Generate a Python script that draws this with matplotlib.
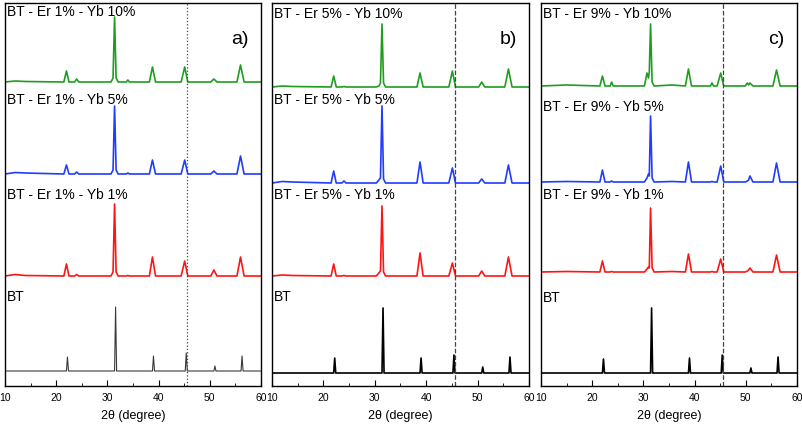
import matplotlib
matplotlib.use('Agg')
import matplotlib.pyplot as plt
from matplotlib.ticker import MultipleLocator

plt.rcParams['font.family'] = ['Liberation Sans', 'DejaVu Sans']

# colour order in every panel: BT (black), Yb 1% (red), Yb 5% (blue), Yb 10% (green)
colors = ['#000000', '#ff1414', '#1f3cff', '#1e9e1e']

# pure BT pattern (same grid for all panels)
x_bt = [10, 22.0, 22.2, 22.4, 31.4, 31.6, 31.8, 38.8, 39.0, 39.2, 45.2, 45.4, 45.6,
        50.8, 51.0, 51.2, 56.1, 56.3, 56.5, 60]
bt_a = [0, 0, 14, 0, 0, 64, 0, 0, 15, 0, 0, 18, 0, 0, 5, 0, 0, 15, 0, 0]
bt_b = [0, 0, 15, 0, 0, 65, 0, 0, 15, 0, 0, 18, 0, 0, 6, 0, 0, 16, 0, 0]
bt_c = [0, 0, 14, 0, 0, 65, 0, 0, 15, 0, 0, 18, 0, 0, 5, 0, 0, 16, 0, 0]

# a) Er 1%
x_a = [10, 12, 14, 21.5, 22.0, 22.5, 23.6, 24.0, 24.4, 30.7, 31.1, 31.4, 31.7, 32.1,
       33.7, 34.0, 34.3, 38.2, 38.8, 39.4, 44.4, 45.1, 45.7, 50.2, 50.8, 51.4,
       55.3, 56.0, 56.7, 60]
a_yb1 = [0, 1.5, 0.5, 0, 12, 0, 0, 1.5, 0, 0, 4, 72, 4, 0, 0, 0.5, 0, 0, 19, 0,
         0, 15, 0, 0, 6, 0, 0, 19, 0, 0]
a_yb5 = [0, 1.5, 1, 0, 9, 0, 0, 2, 0, 0, 4, 68, 4, 0, 0, 1, 0, 0, 14, 0,
         0, 14, 0, 0, 3, 0, 0, 18, 0, 0]
a_yb10 = [0, 1, 0.5, 0, 11, 0, 0, 3, 0, 0, 4, 65, 4, 0, 0, 2, 0, 0, 15, 0,
          0, 15, 0, 0, 3, 0, 0, 17, 0, 0]

# b) Er 5%
x_b = [10, 12, 14, 21.5, 22.0, 22.5, 23.6, 24.0, 24.4, 30.3, 30.8, 31.1, 31.4, 31.7, 32.1,
       38.2, 38.8, 39.4, 44.4, 45.1, 45.7, 50.2, 50.8, 51.4, 55.3, 56.0, 56.7, 60]
b_yb1 = [0, 1, 0.5, 0, 12, 0, 0, 0.5, 0, 0, 3, 5, 70, 4, 0, 0, 23, 0,
         0, 13, 0, 0, 5, 0, 0, 19, 0, 0]
b_yb5 = [0, 1.5, 1, 0, 12, 0, 0, 2, 0, 0, 3, 5, 77, 4, 0, 0, 21, 0,
         0, 15, 0, 0, 4, 0, 0, 18, 0, 0]
b_yb10 = [0, 1, 0.5, 0, 11, 0, 0, 0.5, 0, 0, 1, 4, 63, 4, 0, 0, 14, 0,
          0, 16, 0, 0, 5, 0, 0, 18, 0, 0]

# c) Er 9%
x_c = [10, 15, 21.5, 22.0, 22.5, 23.5, 23.8, 24.1, 30.2, 30.7, 31.0, 31.15, 31.4, 31.7, 32.1,
       35.6, 38.2, 38.8, 39.4, 43.1, 43.4, 43.7, 44.4, 45.1, 45.7,
       49.9, 50.3, 50.55, 50.8, 51.4, 55.3, 56.0, 56.7, 60]
c_yb1 = [0, 0.5, 0, 11, 0, 0, 0.5, 0, 0, 3, 5, 4, 64, 4, 0, 0.5, 0, 18, 0,
         0, 0.5, 0, 0, 13, 0, 0, 1, 2, 4, 0, 0, 17, 0, 0]
c_yb5 = [0, 0.5, 0, 12, 0, 0, 1, 0, 0, 4, 8, 6, 66, 4, 0, 0.5, 0, 20, 0,
         0, 0.5, 0, 0, 16, 0, 0, 1, 2, 6, 0, 0, 19, 0, 0]
c_yb10 = [0, 1, 0, 10, 0, 0, 4, 0, 0, 13, 8, 14, 62, 4, 0, 1, 0, 17, 0,
          0, 3, 0, 0, 13, 0, 0, 3, 1, 3, 0, 0, 16, 0, 0]

# vertical offsets (BT, Yb1, Yb5, Yb10)
offsets = [[15, 110, 212, 304], [13, 110, 203, 299], [13, 114, 204, 300]]
label_y = [[89, 191, 286, 374], [89, 191, 286, 372], [88, 191, 279, 372]]
er = ['1%', '5%', '9%']
yb = ['1%', '5%', '10%']
letters = ['a)', 'b)', 'c)']
x_ref = 45.6

panels = [
    (bt_a, x_a, [a_yb1, a_yb5, a_yb10]),
    (bt_b, x_b, [b_yb1, b_yb5, b_yb10]),
    (bt_c, x_c, [c_yb1, c_yb5, c_yb10]),
]

fig = plt.figure(figsize=(8.03, 4.24), dpi=100)
lefts = [5, 272, 541]
widths = [256, 257, 256]

for i, (bt, xd, doped) in enumerate(panels):
    ax = fig.add_axes([lefts[i] / 803, 38 / 424, widths[i] / 803, 383 / 424])
    off = offsets[i]

    if i == 0:
        ax.plot(x_bt, [v + off[0] for v in bt], color='#3a3a3a', lw=0.8)
    else:
        ax.plot(x_bt, [v + off[0] for v in bt], color='black', lw=1.2)
    for k, ys in enumerate(doped):
        ax.plot(xd, [v + off[k + 1] for v in ys], color=colors[k + 1], lw=1.2)

    ax.axvline(x_ref, color='#444444', lw=0.9, ls=':' if i == 0 else '--')

    names = ['BT'] + ['BT - Er %s - Yb %s' % (er[i], y) for y in yb]
    for k, name in enumerate(names):
        ax.text(10.4, label_y[i][k], name, fontsize=10, ha='left', va='center')
    ax.text(55.9, 346, letters[i], fontsize=14, ha='center', va='center')

    ax.set_xlim(10, 60)
    ax.set_ylim(0, 383)
    ax.set_yticks([])
    ax.xaxis.set_major_locator(MultipleLocator(10))
    ax.xaxis.set_minor_locator(MultipleLocator(5))
    ax.tick_params(axis='x', which='major', direction='in', length=4, labelsize=7.5, pad=5)
    ax.tick_params(axis='x', which='minor', direction='in', length=2.5)
    ax.set_xlabel('2θ (degree)', fontsize=9, labelpad=5)
    for sp in ax.spines.values():
        sp.set_linewidth(1.0)

fig.savefig('out.png', dpi=100)
